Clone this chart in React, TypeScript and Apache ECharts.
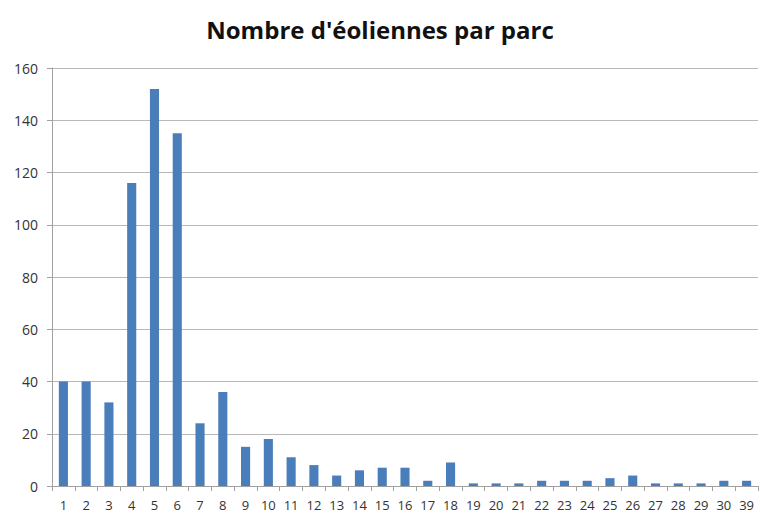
import React, { useEffect, useRef } from "react";
import * as echarts from "echarts";

const categories = ["1","2","3","4","5","6","7","8","9","10","11","12","13","14","15","16","17","18","19","20","21","22","23","24","25","26","27","28","29","30","39"];
const values = [40,40,32,116,152,135,24,36,15,18,11,8,4,6,7,7,2,9,1,1,1,2,2,2,3,4,1,1,1,2,2];
const title = "Nombre d'éoliennes par parc";

export default function App() {
  const ref = useRef<HTMLDivElement>(null);
  useEffect(() => {
    const chart = echarts.init(ref.current!, null, { renderer: "svg" });
    chart.setOption({
      animation: false,
      backgroundColor: "#ffffff",
      title: {
        text: title,
        left: "center",
        top: 12,
        textStyle: { fontFamily: "Open Sans", fontWeight: "bold", fontSize: 24, color: "#111" },
      },
      grid: { left: 52, right: 2, top: 68, bottom: 30, containLabel: false },
      xAxis: {
        type: "category",
        data: categories,
        axisLine: { show: true, lineStyle: { color: "#a0a0a0" } },
        axisTick: { show: true, alignWithLabel: false, length: 5, lineStyle: { color: "#a0a0a0" } },
        axisLabel: { color: "#333", fontFamily: "Open Sans", fontSize: 13, margin: 12, interval: 0 },
      },
      yAxis: {
        type: "value",
        min: 0,
        max: 160,
        interval: 20,
        axisLine: { show: true, lineStyle: { color: "#a0a0a0" } },
        axisTick: { show: true, length: 5, lineStyle: { color: "#a0a0a0" } },
        axisLabel: { color: "#333", fontFamily: "Open Sans", fontSize: 14, margin: 14 },
        splitLine: { show: true, lineStyle: { color: "#b8b8b8", width: 1 } },
      },
      series: [
        {
          type: "bar",
          data: values,
          barWidth: "40%",
          itemStyle: { color: "#4a7ebb" },
        },
      ],
    });
    return () => chart.dispose();
  }, []);
  return <div ref={ref} style={{ width: 760, height: 516, position: "absolute", left: 0, top: 0 }} />;
}
